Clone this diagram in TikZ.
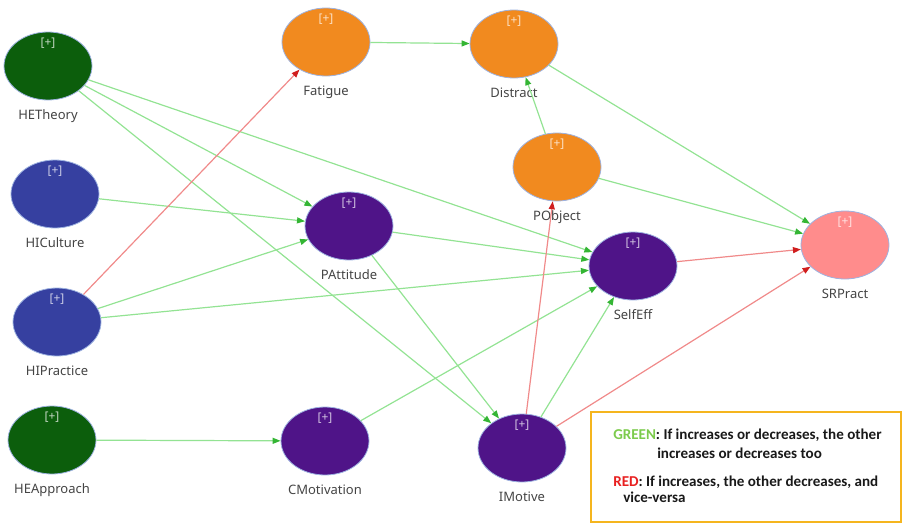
\documentclass[tikz,border=0pt]{standalone}
\usepackage{fontspec}
\setmainfont{Noto Sans}
\newfontfamily\legendfont{Carlito}
\usetikzlibrary{shapes.geometric, arrows.meta}
\definecolor{hegreen}{HTML}{0C5E0C}
\definecolor{hiblue}{HTML}{3640A0}
\definecolor{porange}{HTML}{F18A1F}
\definecolor{cpurple}{HTML}{4F1488}
\definecolor{srpink}{HTML}{FF8C8C}
\definecolor{rimblue}{HTML}{9DB2E0}
\definecolor{linegreen}{HTML}{93E393}
\definecolor{tipgreen}{HTML}{34B534}
\definecolor{linered}{HTML}{F08A8A}
\definecolor{tipred}{HTML}{D01E1E}
\definecolor{labelgray}{HTML}{444444}
\definecolor{legendgold}{HTML}{F5B51E}
\definecolor{txtgreen}{HTML}{7CCB4C}
\definecolor{txtred}{HTML}{E82020}

\begin{document}
\begin{tikzpicture}[x=0.75pt, y=-0.75pt,
    latent/.style={ellipse, draw=rimblue, line width=0.6pt, minimum width=66pt, minimum height=51pt, inner sep=0pt, label={[plus]center:[+]}},
    plus/.style={yshift=17pt, text=white, text opacity=0.75, inner sep=0pt, font=\fontsize{9}{10}\selectfont},
    lbl/.style={yshift=-7pt, inner sep=0pt, text=labelgray, font=\fontsize{9.75}{12}\selectfont},
    garr/.style={draw=linegreen, line width=0.9pt, -{Triangle[length=6pt, width=4.5pt, color=tipgreen]}},
    rarr/.style={draw=linered, line width=0.9pt, -{Triangle[length=6pt, width=4.5pt, color=tipred]}},
    legtext/.style={anchor=base west, inner sep=0pt, text=black!90, font=\legendfont\bfseries\fontsize{11.3}{13}\selectfont}
  ]
  \useasboundingbox (0,0) rectangle (904,525);

  \node[latent, fill=hegreen, label={[lbl]below:HETheory}] (HETheory) at (48,66) {};
  \node[latent, fill=hiblue, label={[lbl]below:HICulture}] (HICulture) at (55,194) {};
  \node[latent, fill=hiblue, label={[lbl]below:HIPractice}] (HIPractice) at (57,322) {};
  \node[latent, fill=hegreen, label={[lbl]below:HEApproach}] (HEApproach) at (52,440) {};

  \node[latent, fill=porange, label={[lbl]below:Fatigue}] (Fatigue) at (326,42) {};
  \node[latent, fill=porange, label={[lbl]below:Distract}] (Distract) at (514,44) {};
  \node[latent, fill=porange, label={[lbl]below:PObject}] (PObject) at (557,167) {};

  \node[latent, fill=cpurple, label={[lbl]below:PAttitude}] (PAttitude) at (349,226) {};
  \node[latent, fill=cpurple, label={[lbl]below:SelfEff}] (SelfEff) at (633,266) {};
  \node[latent, fill=cpurple, label={[lbl]below:CMotivation}] (CMotivation) at (325,441) {};
  \node[latent, fill=cpurple, label={[lbl]below:IMotive}] (IMotive) at (522,448) {};

  \node[latent, fill=srpink, label={[lbl]below:SRPract}] (SRPract) at (845,245) {};

  \draw[garr] (HETheory) -- (PAttitude);
  \draw[garr] (HETheory) -- (SelfEff);
  \draw[garr] (HETheory) -- (IMotive);
  \draw[garr] (HICulture) -- (PAttitude);
  \draw[rarr] (HIPractice) -- (Fatigue);
  \draw[garr] (HIPractice) -- (PAttitude);
  \draw[garr] (HIPractice) -- (SelfEff);
  \draw[garr] (HEApproach) -- (CMotivation);
  \draw[garr] (Fatigue) -- (Distract);
  \draw[garr] (Distract) -- (SRPract);
  \draw[garr] (PObject) -- (Distract);
  \draw[garr] (PObject) -- (SRPract);
  \draw[garr] (PAttitude) -- (SelfEff);
  \draw[garr] (PAttitude) -- (IMotive);
  \draw[rarr] (SelfEff) -- (SRPract);
  \draw[garr] (CMotivation) -- (SelfEff);
  \draw[rarr] (IMotive) -- (PObject);
  \draw[garr] (IMotive) -- (SelfEff);
  \draw[rarr] (IMotive) -- (SRPract);

  \node[draw=legendgold, line width=2.2pt, minimum width=232.5pt, minimum height=82.5pt, inner sep=0pt] (legend) at (746,467) {};
  \node[legtext] (greenline) at (613,439) {\textcolor{txtgreen}{GREEN}: If increases or decreases, the other};
  \node[legtext] (greenmore) at (657,458) {increases or decreases too};
  \node[legtext] (redline) at (613,486) {\textcolor{txtred}{RED}: If increases, the other decreases, and};
  \node[legtext] (redmore) at (623,502) {vice-versa};
\end{tikzpicture}
\end{document}
